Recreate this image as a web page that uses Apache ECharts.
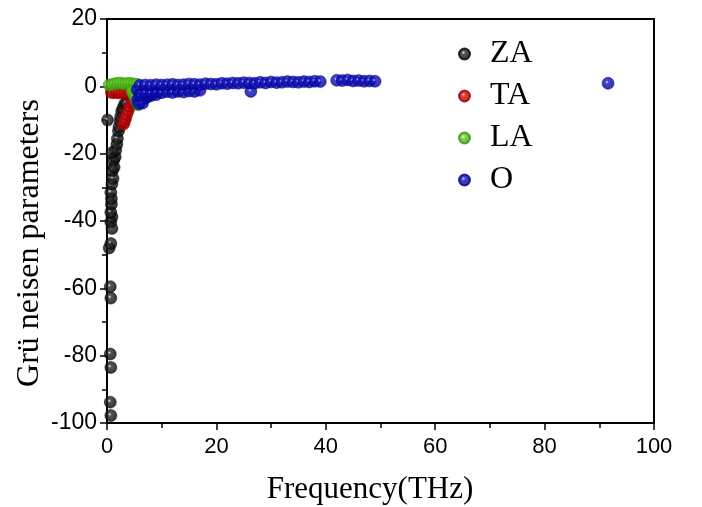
<!DOCTYPE html>
<html><head><meta charset="utf-8">
<script src="https://cdn.jsdelivr.net/npm/echarts@6/dist/echarts.min.js"></script>
<style>html,body{margin:0;padding:0;background:#fff}#c{width:702px;height:507px}</style>
</head><body><div id="c"></div>
<script>
const seriesNames = ['ZA','TA','LA','O'];
const xTicks = [0,20,40,60,80,100];
const yTicks = [-100,-80,-60,-40,-20,0,20];
const xTitle = 'Frequency(THz)';
const yTitle = 'Grü neisen parameters';
const zaData = [[0.7,-97.8],[0.6,-93.8],[0.7,-83.5],[0.6,-79.5],[0.7,-62.9],[0.6,-59.5],[0.4,-48],[0.7,-46.7],[0.9,-42.2],[0.7,-40.3],[0.9,-38.8],[0.7,-37.4],[0.8,-35],[0.8,-33.4],[0.7,-31.5],[0.9,-29],[1.1,-27.4],[1.0,-25],[1.3,-24],[1.2,-22],[1.5,-21],[0.9,-19.7],[1.6,-19],[1.8,-17.2],[1.9,-15.5],[2.1,-13.3],[2.2,-12],[2.4,-10.3],[2.5,-9],[2.7,-7.4],[2.9,-6.5],[3.2,-5.4],[3.5,-5],[0.1,-10]];
const taData = [[0.8,-1.8],[1.3,-1.9],[1.8,-1.8],[2.3,-2],[2.8,-1.9],[3.3,-2.1],[3.8,-1.8],[4.2,-1.5],[3.0,-11.3],[3.2,-10.5],[3.4,-9.5],[3.6,-8.4],[3.9,-7.2],[4.2,-5.9],[4.5,-5],[4.8,-4.4],[5,-3.5]];
const laData = [[0.4,0.4],[1,0.6],[1.5,0.8],[2,0.9],[2.5,1.0],[3,0.7],[3.5,0.8],[4,0.9],[4.5,0.8],[5,0.7],[5.5,0.6],[4.6,-1.5],[4.9,-2.5],[5.2,-3.5],[5.5,-4.5],[5.7,-5.5]];
const oData = [[5.5,-1],[5.6,-4],[5.8,-5.2],[6,-3],[6.2,-2],[6.5,-5],[7,-3.5],[7.5,-3],[8,-2.8],[9,-2.5],[7,-1.8],[8,-2],[9,-1.7],[10,-1.9],[11,-1.6],[12,-1.8],[13,-1.5],[14,-1.7],[15,-1.4],[16,-1.5],[17,-1.2],[26.3,-1.5],
[6,0.3],[7,0.4],[8,0.3],[9,0.5],[10,0.4],[11,0.5],[12,0.6],[13,0.4],[14,0.5],[15,0.7],[16,0.6],[17,0.5],[18,0.8],[19,0.7],[20,0.6],[21,0.9],[22,0.8],[23,1.0],[24,0.9],[25,1.1],[26,1.0],[27,0.9],[28,1.2],[29,1.0],[30,1.3],[31,1.1],[32,1.2],[33,1.4],[34,1.3],[35,1.2],[36,1.4],[37,1.3],[38,1.5],[39,1.4],[42,1.8],[43,1.7],[44,1.9],[45,1.6],[46,1.7],[47,1.5],[48,1.6],[49,1.5],[91.6,0.9]];
const allData = [zaData, taData, laData, oData];
const palettes = [['#f0f0f0','#2a2a2a','#000'],['#ffd0d0','#d81010','#900000'],['#f0ffe0','#60d020','#389010'],['#e0e0ff','#1414c0','#000090']];
function grad(p){return {type:'radial',x:0.42,y:0.4,r:0.62,colorStops:[{offset:0,color:p[0]},{offset:0.22,color:p[1]},{offset:1,color:p[2]}]};}
const axisCommon = {
  type:'value',interval:20,
  axisLine:{show:true,onZero:false,lineStyle:{color:'#000',width:1.8}},
  axisTick:{show:true,inside:false,length:7,lineStyle:{color:'#000',width:1.5}},
  minorTick:{show:true,splitNumber:2,length:5,lineStyle:{color:'#000',width:1.5}},
  splitLine:{show:false}
};
const chart = echarts.init(document.getElementById('c'));
chart.setOption({
  animation:false,
  backgroundColor:'#fff',
  grid:{left:107,right:48,top:19,bottom:84,show:true,borderColor:'#000',borderWidth:2,backgroundColor:'transparent'},
  legend:{orient:'vertical',left:453,top:33,itemWidth:11,itemHeight:11,itemGap:10,icon:'circle',
    textStyle:{fontFamily:'Liberation Serif',fontSize:32,color:'#000',padding:[0,0,0,15]},
    data:seriesNames},
  xAxis:Object.assign({},axisCommon,{min:xTicks[0],max:xTicks[xTicks.length-1],
    axisLabel:{fontFamily:'Liberation Sans',fontSize:22,color:'#000',margin:13}}),
  yAxis:Object.assign({},axisCommon,{min:yTicks[0],max:yTicks[yTicks.length-1],
    axisLabel:{fontFamily:'Liberation Sans',fontSize:23,color:'#000',margin:10}}),
  graphic:[
    {type:'text',x:370,y:490,style:{text:xTitle,font:'31px "Liberation Serif"',fill:'#000',textAlign:'center',textVerticalAlign:'middle'}},
    {type:'text',x:30,y:243,rotation:Math.PI/2,style:{text:yTitle,font:'32px "Liberation Serif"',fill:'#000',textAlign:'center',textVerticalAlign:'middle'}}
  ],
  series: seriesNames.map((n,i)=>({
    name:n,type:'scatter',data:allData[i],symbol:'circle',symbolSize:12,
    itemStyle:{color:grad(palettes[i]),borderColor:palettes[i][2],borderWidth:0.6}
  }))
});
</script></body></html>
